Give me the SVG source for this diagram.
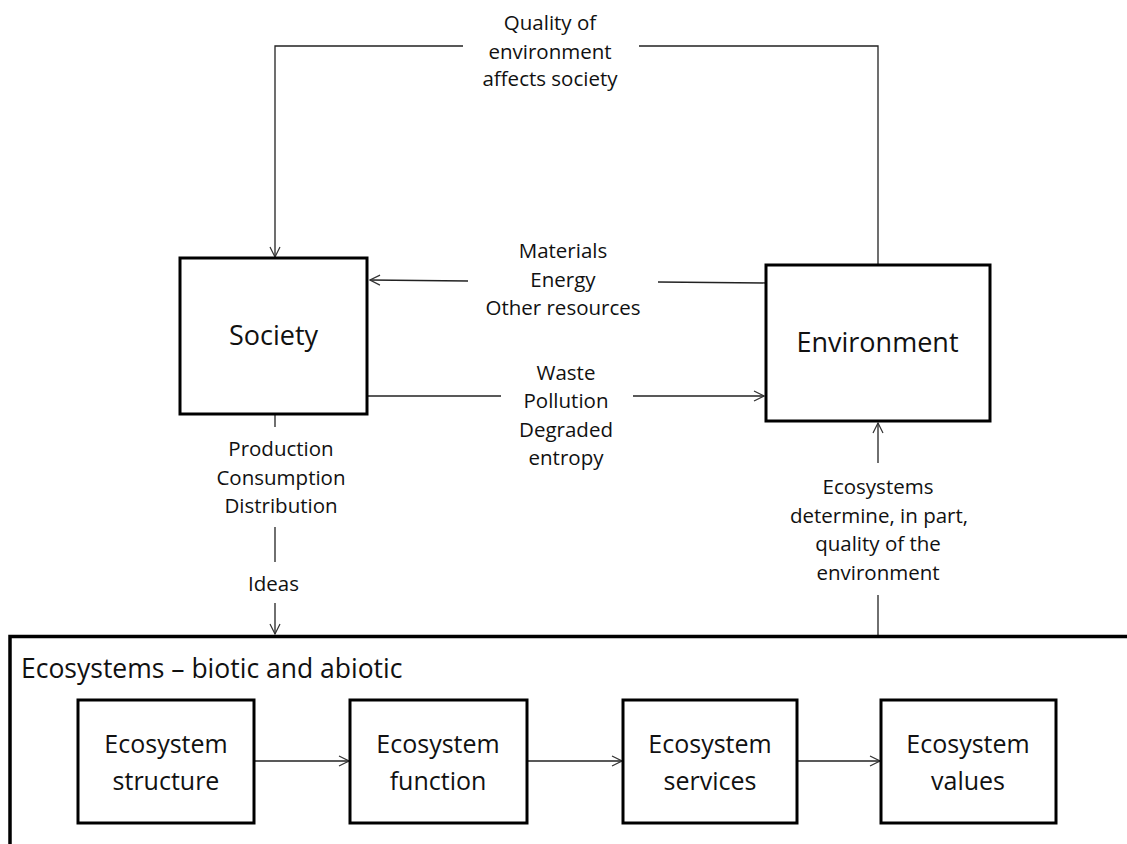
<svg xmlns="http://www.w3.org/2000/svg" width="1127" height="844" viewBox="0 0 1127 844">
<defs>
<marker id="arr" viewBox="0 0 12 12" refX="11" refY="6" markerWidth="12" markerHeight="12" markerUnits="userSpaceOnUse" orient="auto">
<path d="M1,1 L11,6 L1,11" fill="none" stroke="#333" stroke-width="1.2"/>
</marker>
<style>
.box{fill:#fff;stroke:#000;stroke-width:3}
.ln{fill:none;stroke:#222;stroke-width:1.3}
.lbl{font-family:"Open Sans",Lato,sans-serif;font-size:20.5px;fill:#111;text-anchor:middle}
.big{font-family:"Open Sans",Lato,sans-serif;font-size:25px;fill:#111;text-anchor:middle}
.big2{font-family:"Open Sans",Lato,sans-serif;font-size:27px;fill:#111;text-anchor:middle}
</style>
</defs>
<rect width="1127" height="844" fill="#fff"/>
<g id="connectors">
<polyline class="ln" points="463,46 275,46 275,257" marker-end="url(#arr)"/>
<polyline class="ln" points="639,46 878,46 878,265"/>
<line class="ln" x1="468" y1="281" x2="370" y2="280" marker-end="url(#arr)"/>
<line class="ln" x1="766" y1="283" x2="658" y2="282"/>
<line class="ln" x1="368" y1="396" x2="501" y2="396"/>
<line class="ln" x1="633" y1="396" x2="764" y2="396" marker-end="url(#arr)"/>
<line class="ln" x1="275" y1="415" x2="275" y2="427"/>
<line class="ln" x1="275" y1="527" x2="275" y2="562"/>
<line class="ln" x1="275" y1="603" x2="275" y2="634" marker-end="url(#arr)"/>
<line class="ln" x1="878" y1="463" x2="878" y2="423" marker-end="url(#arr)"/>
<line class="ln" x1="878" y1="595" x2="878" y2="635"/>
<line class="ln" x1="254" y1="761" x2="349" y2="761" marker-end="url(#arr)"/>
<line class="ln" x1="527" y1="761" x2="622" y2="761" marker-end="url(#arr)"/>
<line class="ln" x1="797" y1="761" x2="880" y2="761" marker-end="url(#arr)"/>
</g>
<g id="labels">
<text class="lbl" x="550" y="30">Quality of</text>
<text class="lbl" x="550" y="59">environment</text>
<text class="lbl" x="550" y="86">affects society</text>
<text class="lbl" x="563" y="258">Materials</text>
<text class="lbl" x="563" y="287">Energy</text>
<text class="lbl" x="563" y="315">Other resources</text>
<text class="lbl" x="566" y="380">Waste</text>
<text class="lbl" x="566" y="408">Pollution</text>
<text class="lbl" x="566" y="437">Degraded</text>
<text class="lbl" x="566" y="465">entropy</text>
<text class="lbl" x="281" y="456">Production</text>
<text class="lbl" x="281" y="485">Consumption</text>
<text class="lbl" x="281" y="513">Distribution</text>
<text class="lbl" x="273.5" y="591">Ideas</text>
<text class="lbl" x="878" y="494">Ecosystems</text>
<text class="lbl" x="879" y="523">determine, in part,</text>
<text class="lbl" x="878" y="551">quality of the</text>
<text class="lbl" x="878" y="580">environment</text>
</g>
<g id="society">
<rect class="box" x="180" y="258" width="187" height="156"/>
<text class="big2" x="273.5" y="345">Society</text>
</g>
<g id="environment">
<rect class="box" x="766" y="265" width="224" height="156"/>
<text class="big2" x="877.5" y="352">Environment</text>
</g>
<g id="ecosystems">
<polyline points="10,844 10,636.5 1127,636.5" fill="none" stroke="#000" stroke-width="3.5"/>
<text x="21" y="678" font-family="'Open Sans',Lato,sans-serif" font-size="26.5" fill="#111">Ecosystems – biotic and abiotic</text>
</g>
<g id="structure">
<rect class="box" x="78" y="700" width="176" height="123"/>
<text class="big" x="166" y="753">Ecosystem</text>
<text class="big" x="166" y="790">structure</text>
</g>
<g id="function">
<rect class="box" x="350" y="700" width="177" height="123"/>
<text class="big" x="438" y="753">Ecosystem</text>
<text class="big" x="438" y="790">function</text>
</g>
<g id="services">
<rect class="box" x="623" y="700" width="174" height="123"/>
<text class="big" x="710" y="753">Ecosystem</text>
<text class="big" x="710" y="790">services</text>
</g>
<g id="values">
<rect class="box" x="881" y="700" width="175" height="123"/>
<text class="big" x="968" y="753">Ecosystem</text>
<text class="big" x="968" y="790">values</text>
</g>
</svg>
